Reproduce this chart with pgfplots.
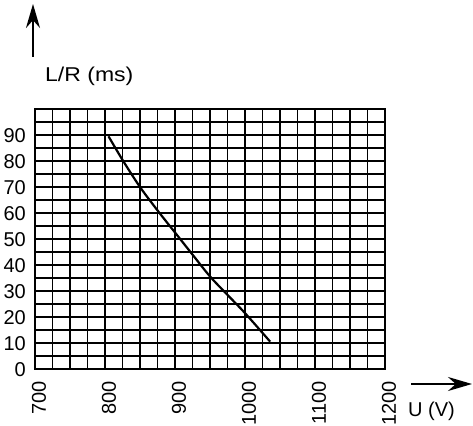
\documentclass[border=0pt]{standalone}
\usepackage{fontspec}
\setmainfont{Liberation Sans}
\newfontfamily\widefont[FakeStretch=1.15]{Liberation Sans}
\usepackage{pgfplots}
\pgfplotsset{compat=1.18}
\usetikzlibrary{arrows.meta}

\newcommand{\bigfont}{\fontsize{20}{23}\selectfont}

\begin{document}
\begin{tikzpicture}
    \path[use as bounding box] (0,0) rectangle (473pt,425pt);
    \begin{axis}[
        at={(35pt,56pt)}, anchor=south west,
        scale only axis,
        width=350pt, height=260pt,
        xmin=700, xmax=1200,
        ymin=0, ymax=100,
        xtick={700,800,...,1200},
        ytick={0,10,...,90},
        minor xtick={700,725,...,1200},
        minor ytick={0,5,...,100},
        major tick length=0pt, minor tick length=0pt,
        % grid
        grid=both,
        major grid style={black, line width=1.4pt},
        minor grid style={black, line width=1.4pt},
        axis line style={black, line width=1.4pt},
        /pgf/number format/assume math mode=true,
        /pgf/number format/1000 sep={},
        tick label style={font=\bigfont, inner sep=0pt},
        yticklabel style={anchor=east, xshift=-9pt, yshift=-1pt},
        xticklabel style={xshift=4pt, yshift=-12pt, rotate=90, anchor=east},
    ]
        \addplot[black, line width=2.2pt, smooth, no markers] coordinates {
            (805,89.5)
            (826,80)
            (850,70)
            (875,61)
            (900,52.5)
            (925,44)
            (950,35.6)
            (975,28.5)
            (1000,21.5)
            (1036,10.5)
        };
    \end{axis}
    \draw[line width=2.2pt, -{Stealth[length=24pt,width=14pt]}] (33pt,368pt) -- (33pt,421pt);
    \draw[line width=2.2pt, -{Stealth[length=24pt,width=14pt]}] (411pt,41pt) -- (472pt,41pt);
    \node[anchor=base west, inner sep=0pt, font=\widefont\fontsize{20}{23}\selectfont] at (45pt,343pt) {L/R (ms)};
    \node[anchor=base west, inner sep=0pt, font=\bigfont] at (408pt,8.5pt) {U (V)};
\end{tikzpicture}
\end{document}
